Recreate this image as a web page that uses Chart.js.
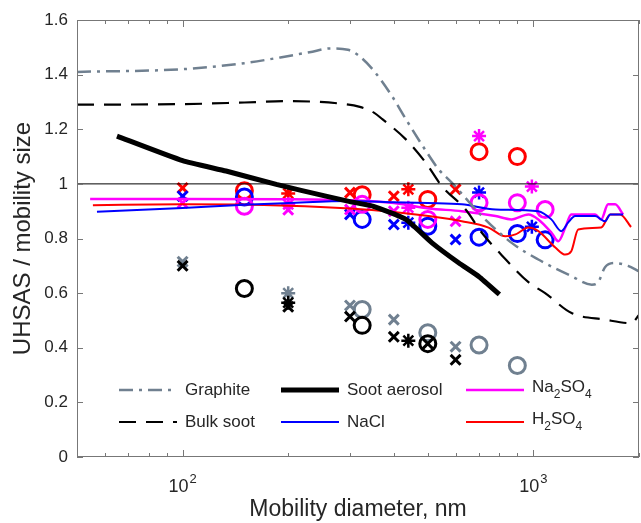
<!DOCTYPE html>
<html lang="en">
<head>
<meta charset="UTF-8">
<title>UHSAS / mobility size</title>
<style>
  body { margin: 0; background: #fff; }
  #wrap { width: 641px; height: 523px; }
</style>
</head>
<body>
<div id="wrap"><canvas id="chart" width="641" height="523"></canvas></div>
<script src="https://cdn.jsdelivr.net/npm/chart.js"></script>
<script>
// axis ticks (labelled x ticks are written as base and exponent)
const xTicks = [50, 60, 70, 80, 90, 100, 200, 300, 400, 500, 600, 700, 800, 900, 1000, 2000];
const xTickLabels = { 100: ['10', '2'], 1000: ['10', '3'] };
const yTicks = [0, 0.2, 0.4, 0.6, 0.8, 1, 1.2, 1.4, 1.6];

// model curves: mobility diameter (nm) and UHSAS/mobility ratio
const graphiteD = [50, 100, 150, 190, 230, 265, 296, 318, 351, 395, 433, 500, 537, 586, 713, 867, 1033, 1285, 1467, 1530, 1600, 1710, 1860, 2000];
const graphiteR = [1.41, 1.42, 1.442, 1.463, 1.482, 1.496, 1.491, 1.469, 1.414, 1.322, 1.237, 1.11, 1.053, 1.004, 0.882, 0.784, 0.723, 0.662, 0.631, 0.64, 0.695, 0.71, 0.70, 0.68];

const bulkSootD = [50, 100, 150, 200, 276, 320, 351, 371, 433, 493, 548, 641, 713, 811, 968, 1080, 1285, 1600, 1900, 2000];
const bulkSootR = [1.29, 1.292, 1.298, 1.303, 1.295, 1.282, 1.261, 1.237, 1.163, 1.078, 0.992, 0.906, 0.821, 0.74, 0.64, 0.60, 0.527, 0.503, 0.49, 0.52];

const sootAerosolD = [65, 100, 133, 185, 256, 300, 350, 433, 514, 612, 700, 800];
const sootAerosolR = [1.175, 1.085, 1.047, 0.998, 0.955, 0.935, 0.918, 0.87, 0.784, 0.711, 0.66, 0.595];

const naclD = [57, 100, 150, 200, 300, 400, 500, 625, 780, 1033, 1125, 1201, 1257, 1316, 1500, 1601, 1656, 1802];
const naclR = [0.898, 0.912, 0.924, 0.93, 0.937, 0.933, 0.93, 0.925, 0.906, 0.90, 0.87, 0.827, 0.859, 0.882, 0.882, 0.863, 0.888, 0.888];

const na2so4D = [54.5, 100, 200, 300, 400, 503, 625, 780, 866, 968, 1033, 1125, 1178, 1233, 1282, 1500, 1560, 1633, 1710, 1802];
const na2so4R = [0.945, 0.945, 0.944, 0.94, 0.93, 0.91, 0.90, 0.882, 0.87, 0.888, 0.87, 0.822, 0.79, 0.84, 0.888, 0.888, 0.87, 0.925, 0.925, 0.888];

const h2so4D = [55.5, 100, 200, 300, 400, 503, 625, 745, 832, 889, 968, 1033, 1155, 1233, 1282, 1342, 1560, 1656, 1767, 1898];
const h2so4R = [0.922, 0.925, 0.92, 0.91, 0.897, 0.882, 0.863, 0.84, 0.808, 0.815, 0.84, 0.827, 0.767, 0.741, 0.753, 0.833, 0.84, 0.888, 0.888, 0.842];

// unity reference line
const unityD = [50, 2000];
const unityR = [1, 1];

// measured points (x = crosses, star = asterisks, o = circles)
const grayXD = [100, 300, 400, 600];          const grayXR = [0.715, 0.555, 0.503, 0.404];
const grayStarD = [200];                      const grayStarR = [0.60];
const grayOD = [325, 500, 700, 900];          const grayOR = [0.54, 0.455, 0.41, 0.335];

const blackXD = [100, 200, 300, 400, 500, 600]; const blackXR = [0.70, 0.55, 0.514, 0.44, 0.415, 0.356];
const blackStarD = [200, 440];                const blackStarR = [0.565, 0.426];
const blackOD = [150, 325, 500];              const blackOR = [0.617, 0.482, 0.415];

const redXD = [100, 300, 400, 600];           const redXR = [0.985, 0.968, 0.955, 0.98];
const redStarD = [200, 440];                  const redStarR = [0.965, 0.98];
const redOD = [150, 325, 500, 700, 900];      const redOR = [0.975, 0.96, 0.943, 1.118, 1.10];

const blueXD = [100, 300, 400, 600];          const blueXR = [0.955, 0.888, 0.851, 0.796];
const blueStarD = [440, 700, 990];            const blueStarR = [0.858, 0.968, 0.843];
const blueOD = [150, 325, 500, 700, 900, 1080]; const blueOR = [0.952, 0.87, 0.845, 0.805, 0.818, 0.795];

const magXD = [100, 200, 300, 400, 600];      const magXR = [0.93, 0.905, 0.906, 0.90, 0.863];
const magStarD = [200, 440, 700, 990];        const magStarR = [0.925, 0.913, 1.175, 0.99];
const magOD = [150, 325, 500, 700, 900, 1080]; const magOR = [0.918, 0.925, 0.87, 0.931, 0.931, 0.906];

const GRAY = '#708090';
const TEXT = '#262626';
const AXIS = '#777777';
const FONT = "'Liberation Sans', Arial, Helvetica, sans-serif";

function pts(d, r) {
    return d.map((v, i) => ({ x: v, y: r[i] }));
}

function curve(label, d, r, color, width, dash) {
    return {
        label: label,
        data: pts(d, r),
        borderColor: color,
        backgroundColor: color,
        borderWidth: width,
        borderDash: dash || [],
        pointRadius: 0,
        cubicInterpolationMode: 'monotone',
        fill: false
    };
}

function marks(d, r, color, style) {
    const sizes = { crossRot: 7, star: 7, circle: 8 };
    const widths = { crossRot: 3, star: 2.5, circle: 3 };
    return {
        label: '',
        data: pts(d, r),
        showLine: false,
        pointStyle: style,
        pointRadius: sizes[style],
        pointBorderWidth: widths[style],
        pointBorderColor: color,
        pointBackgroundColor: 'rgba(0,0,0,0)',
        borderColor: color,
        backgroundColor: 'rgba(0,0,0,0)'
    };
}

const unity = curve('', unityD, unityR, '#000', 1);
unity.cubicInterpolationMode = 'default';
unity.tension = 0;
const sootAerosol = curve('Soot aerosol', sootAerosolD, sootAerosolR, '#000', 5);
sootAerosol.cubicInterpolationMode = 'default';
sootAerosol.tension = 0.15;

const datasets = [
    unity,
    curve('Graphite', graphiteD, graphiteR, GRAY, 2.5, [14, 6, 3, 6]),
    curve('Bulk soot', bulkSootD, bulkSootR, '#000', 2.2, [17, 10]),
    sootAerosol,
    curve('NaCl', naclD, naclR, '#0000ff', 2),
    curve('Na2SO4', na2so4D, na2so4R, '#ff00ff', 2.5),
    curve('H2SO4', h2so4D, h2so4R, '#ff0000', 2),
    marks(magXD, magXR, '#ff00ff', 'crossRot'),
    marks(magStarD, magStarR, '#ff00ff', 'star'),
    marks(magOD, magOR, '#ff00ff', 'circle'),
    marks(blueXD, blueXR, '#0000ff', 'crossRot'),
    marks(blueStarD, blueStarR, '#0000ff', 'star'),
    marks(blueOD, blueOR, '#0000ff', 'circle'),
    marks(redXD, redXR, '#ff0000', 'crossRot'),
    marks(redStarD, redStarR, '#ff0000', 'star'),
    marks(redOD, redOR, '#ff0000', 'circle'),
    marks(blackXD, blackXR, '#000', 'crossRot'),
    marks(blackStarD, blackStarR, '#000', 'star'),
    marks(blackOD, blackOR, '#000', 'circle'),
    marks(grayXD, grayXR, GRAY, 'crossRot'),
    marks(grayStarD, grayStarR, GRAY, 'star'),
    marks(grayOD, grayOR, GRAY, 'circle')
];

// legend inside the axes, 3 columns x 2 rows, text parts with subscripts
const legendItems = [
    { ds: 1, col: 0, row: 0, parts: [['Graphite']] },
    { ds: 2, col: 0, row: 1, parts: [['Bulk soot']] },
    { ds: 3, col: 1, row: 0, parts: [['Soot aerosol']] },
    { ds: 4, col: 1, row: 1, parts: [['NaCl']] },
    { ds: 5, col: 2, row: 0, parts: [['Na'], ['2', 1], ['SO'], ['4', 1]] },
    { ds: 6, col: 2, row: 1, parts: [['H'], ['2', 1], ['SO'], ['4', 1]] }
];
const legendColX = [119, 281, 466];
const legendRowY = [390, 422];

const frame = {
    id: 'frame',
    afterDatasetsDraw(chart) {
        const { ctx, chartArea: a, scales: { x, y } } = chart;
        ctx.save();
        ctx.strokeStyle = AXIS;
        ctx.lineWidth = 1;
        ctx.setLineDash([]);
        ctx.beginPath();
        y.ticks.forEach(t => {
            const py = Math.round(y.getPixelForValue(t.value)) + 0.5;
            ctx.moveTo(a.left, py); ctx.lineTo(a.left + 6, py);
            ctx.moveTo(a.right, py); ctx.lineTo(a.right - 6, py);
        });
        x.ticks.forEach(t => {
            const px = Math.round(x.getPixelForValue(t.value)) + 0.5;
            const len = xTickLabels[t.value] ? 7 : 4;
            ctx.moveTo(px, a.bottom); ctx.lineTo(px, a.bottom - len);
            ctx.moveTo(px, a.top); ctx.lineTo(px, a.top + len);
        });
        ctx.stroke();
        ctx.strokeRect(a.left + 0.5, a.top + 0.5, a.right - a.left - 1, a.bottom - a.top - 1);

        // x tick labels as powers of ten
        ctx.fillStyle = TEXT;
        ctx.textAlign = 'left';
        ctx.textBaseline = 'alphabetic';
        x.ticks.forEach(t => {
            const lab = xTickLabels[t.value];
            if (!lab) return;
            const px = x.getPixelForValue(t.value);
            ctx.font = '18px ' + FONT;
            const wb = ctx.measureText(lab[0]).width;
            ctx.font = '13px ' + FONT;
            const we = ctx.measureText(lab[1]).width;
            const x0 = px - (wb + we + 1) / 2;
            ctx.font = '18px ' + FONT;
            ctx.fillText(lab[0], x0, a.bottom + 35);
            ctx.font = '13px ' + FONT;
            ctx.fillText(lab[1], x0 + wb + 1, a.bottom + 26);
        });

        // legend
        legendItems.forEach(item => {
            const ds = chart.data.datasets[item.ds];
            const lx = legendColX[item.col];
            const ly = legendRowY[item.row];
            ctx.beginPath();
            ctx.strokeStyle = ds.borderColor;
            ctx.lineWidth = ds.borderWidth;
            ctx.setLineDash(ds.borderDash || []);
            ctx.moveTo(lx, ly);
            ctx.lineTo(lx + 58, ly);
            ctx.stroke();
            ctx.setLineDash([]);
            ctx.fillStyle = TEXT;
            ctx.textBaseline = 'middle';
            ctx.textAlign = 'left';
            let tx = lx + 66;
            const hasSub = item.parts.length > 1;
            item.parts.forEach(p => {
                if (p[1]) {
                    ctx.font = '12px ' + FONT;
                    ctx.fillText(p[0], tx, ly + 5);
                } else {
                    ctx.font = '17px ' + FONT;
                    ctx.fillText(p[0], tx, hasSub ? ly - 3 : ly);
                }
                tx += ctx.measureText(p[0]).width;
            });
        });
        ctx.restore();
    }
};

new Chart(document.getElementById('chart'), {
    type: 'line',
    data: { datasets: datasets },
    options: {
        responsive: false,
        animation: false,
        layout: { autoPadding: false, padding: { left: 0, right: 2, top: 20, bottom: 0 } },
        plugins: { legend: { display: false }, tooltip: { enabled: false } },
        scales: {
            x: {
                type: 'logarithmic',
                min: 50,
                max: 2000,
                grid: { display: false, drawTicks: false },
                border: { display: false },
                afterBuildTicks: s => { s.ticks = xTicks.map(v => ({ value: v })); },
                afterFit: s => { s.height = 66; },
                ticks: { display: false, autoSkip: false, maxRotation: 0, padding: 0 },
                title: {
                    display: true,
                    text: 'Mobility diameter, nm',
                    color: TEXT,
                    font: { family: FONT, size: 23 },
                    padding: { top: 0, bottom: 0 }
                }
            },
            y: {
                min: 0,
                max: 1.6,
                grid: { display: false, drawTicks: false },
                border: { display: false },
                afterBuildTicks: s => { s.ticks = yTicks.map(v => ({ value: v })); },
                afterFit: s => { s.width = 77; },
                ticks: {
                    padding: 9,
                    color: TEXT,
                    font: { family: FONT, size: 17 },
                    callback: v => String(+Number(v).toFixed(1))
                },
                title: {
                    display: true,
                    text: 'UHSAS / mobility size',
                    color: TEXT,
                    font: { family: FONT, size: 24 },
                    padding: { top: 9, bottom: 0 }
                }
            }
        }
    },
    plugins: [frame]
});
</script>
</body>
</html>
